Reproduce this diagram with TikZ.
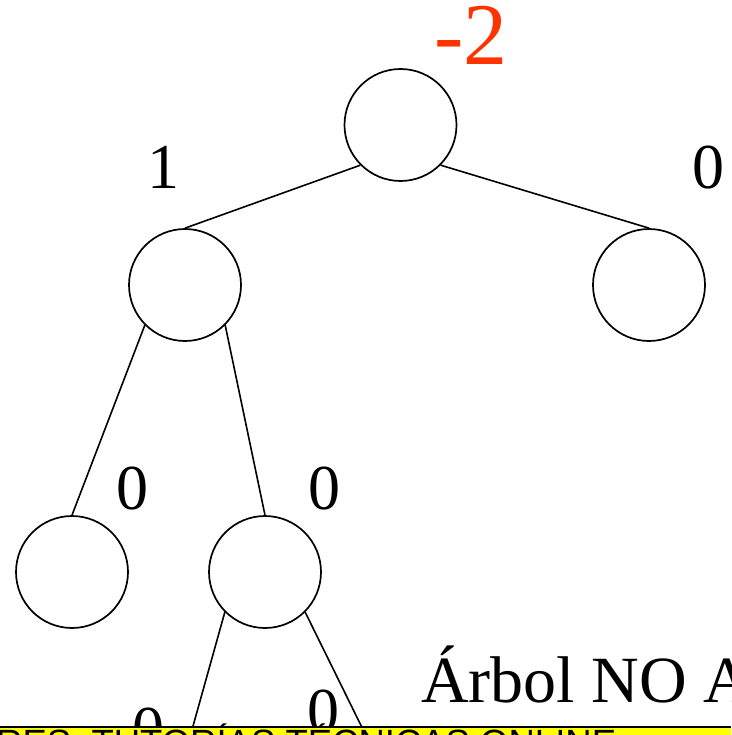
\documentclass[tikz,border=0pt]{standalone}
\usepackage{fontspec}
\setmainfont{Liberation Serif}
\newfontfamily\bandfont{Liberation Sans}
\definecolor{balred}{RGB}{255,51,0}
\definecolor{bandyellow}{RGB}{255,255,0}
\begin{document}
\begin{tikzpicture}[x=1pt,y=-1pt,
  treenode/.style={circle,draw=black,line width=1.7pt,minimum size=112pt,inner sep=0pt},
  edge/.style={line width=1.6pt,draw=black},
  lbl/.style={inner sep=0pt,font=\fontsize{64}{64}\selectfont},
  ]
\useasboundingbox (0,0) rectangle (731,735);
\clip (0,0) rectangle (731,735);
\fill[white] (0,0) rectangle (731,735);
\node[treenode] (root) at (400.5,125) {};
\node[treenode] (l) at (185,285) {};
\node[treenode] (r) at (649,285) {};
\node[treenode] (ll) at (72,572) {};
\node[treenode] (lr) at (265,572) {};
\coordinate (lrl) at (183,762);
\coordinate (lrr) at (379,762);
\draw[edge] (root.225) -- (l.north);
\draw[edge] (root.315) -- (r.north);
\draw[edge] (l.225) -- (ll.north);
\draw[edge] (l.315) -- (lr.north);
\draw[edge] (lr.225) -- (lrl);
\draw[edge] (lr.315) -- (lrr);
\node[inner sep=0pt,anchor=base,text=balred,font=\fontsize{88}{88}\selectfont] (bal) at (471,65) {-2};
\node[lbl,anchor=base] (bl) at (163,189) {1};
\node[lbl,anchor=base] (br) at (708,189) {0};
\node[lbl,anchor=base] (bll) at (132,509) {0};
\node[lbl,anchor=base] (blr) at (324,509) {0};
\node[lbl,anchor=base] (blrl) at (148,750) {0};
\node[lbl,anchor=base] (blrr) at (323,732) {0};
\node[inner sep=0pt,anchor=base west,font=\fontsize{66}{66}\selectfont] (title) at (421,702) {Árbol NO A};
\fill[bandyellow] (0,727) rectangle (731,740);
\draw[line width=2pt] (0,727) -- (731,727);
\node[inner sep=0pt,anchor=base west,font=\bandfont\fontsize{36.5}{36.5}\selectfont] (band) at (-4,755) {RES, TUTORÍAS TÉCNICAS ONLINE};
\end{tikzpicture}
\end{document}
